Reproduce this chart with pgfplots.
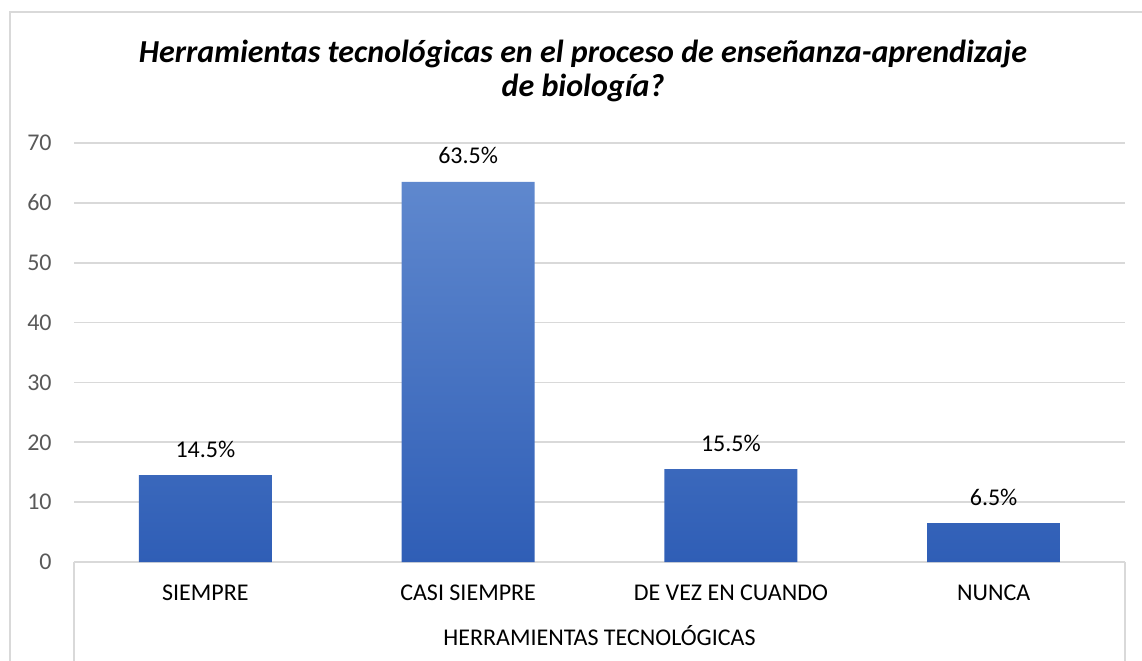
\documentclass[border=0pt]{standalone}
\usepackage{fontspec}
\setmainfont{Carlito}
\usepackage{pgfplots}
\pgfplotsset{compat=1.18}
\definecolor{gridgray}{HTML}{D9D9D9}
\definecolor{ticktxt}{HTML}{595959}
\definecolor{bartop}{HTML}{5F88CE}
\definecolor{barbot}{HTML}{2F5EB6}

\begin{document}
\begin{tikzpicture}
  \useasboundingbox (-37pt,-49pt) rectangle (534pt,281pt);
  % outer chart frame (cropped right and bottom)
  \draw[gridgray, line width=0.8pt] (-32pt,-60pt) -- (-32pt,275pt) -- (540pt,275pt);
  \begin{axis}[
      scale only axis, width=525.5pt, height=209.5pt,
      at={(0,0)}, anchor=south west,
      xmin=-0.5, xmax=3.5, ymin=0, ymax=70,
      xtick={0,1,2,3},
      xticklabels={SIEMPRE, CASI SIEMPRE, DE VEZ EN CUANDO, NUNCA},
      ytick={0,10,...,70},
      axis line style={draw=none},
      axis x line*=bottom,
      x axis line style={draw=gridgray, line width=0.8pt},
      major tick length=0pt,
      ymajorgrids, grid style={gridgray, line width=0.8pt},
      /pgf/number format/assume math mode=true,
      tick label style={font=\fontsize{12}{14}\selectfont},
      yticklabel style={text=ticktxt, anchor=east, inner sep=0pt, xshift=-11pt},
      xticklabel style={text=black, anchor=base, inner sep=0pt, yshift=-19pt},
      xlabel={HERRAMIENTAS TECNOLÓGICAS},
      xlabel style={at={(axis description cs:0.5,0)}, anchor=base, inner sep=0pt,
                    yshift=-41.5pt, font=\fontsize{12}{14}\selectfont},
      ybar, bar width=66.5pt,
      nodes near coords={\pgfmathprintnumber[fixed,zerofill,precision=1]{\pgfplotspointmeta}\%},
      every node near coord/.append style={font=\fontsize{12}{14}\selectfont,
                    text=black, anchor=base, inner sep=0pt, yshift=9pt},
      clip=false,
    ]
    \addplot[draw=none, top color=bartop, bottom color=barbot]
      coordinates {(0,14.5) (1,63.5) (2,15.5) (3,6.5)};
  \end{axis}
  % category box
  \draw[gridgray, line width=0.8pt] (0pt,0pt) -- (0pt,-60pt);
  \draw[gridgray, line width=0.8pt] (525.5pt,0pt) -- (525.5pt,-60pt);
  \node[font=\fontsize{16}{17.5}\selectfont\bfseries\itshape, align=center,
        anchor=base, inner sep=0pt] at (254.5pt,232.5pt)
    {Herramientas tecnológicas en el proceso de enseñanza-aprendizaje\\de biología?};
\end{tikzpicture}
\end{document}
